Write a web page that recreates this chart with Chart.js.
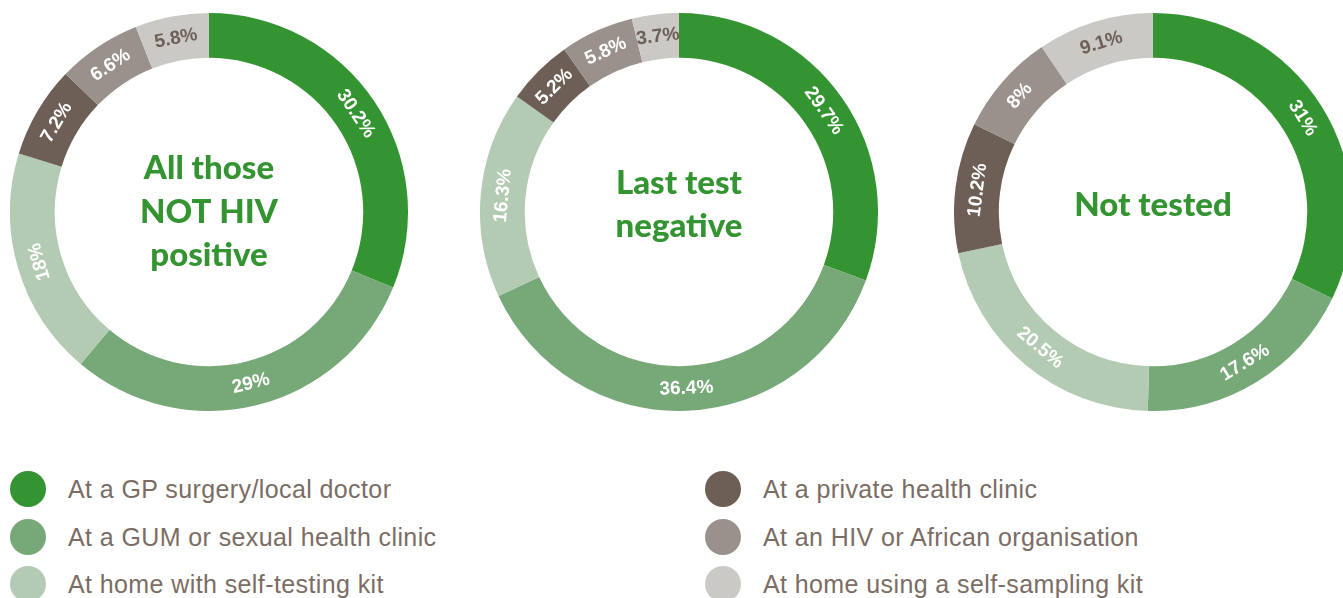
<!DOCTYPE html>
<html>
<head>
<meta charset="utf-8">
<script src="https://cdn.jsdelivr.net/npm/chart.js@4/dist/chart.umd.min.js"></script>
<style>
  html, body { margin: 0; padding: 0; background: #fff; overflow: hidden; width: 1343px; height: 598px; }
  .ring { position: absolute; top: 13px; width: 398px; height: 398px; }
  .ring canvas { width: 398px !important; height: 398px !important; }
  .legend-item { position: absolute; height: 36px; line-height: 36px; font-family: "Liberation Sans", Arial, sans-serif;
    font-size: 25px; letter-spacing: 0.4px; color: #7b6d64; white-space: nowrap; }
  .legend-item span.dot { position: absolute; left: 0; top: 0; width: 36px; height: 36px; border-radius: 50%; }
  .legend-item span.txt { position: absolute; left: 58px; top: 0; }
</style>
</head>
<body>
<div class="ring" style="left:10px"><canvas id="chartAll"></canvas></div>
<div class="ring" style="left:480px"><canvas id="chartNeg"></canvas></div>
<div class="ring" style="left:954px"><canvas id="chartNot"></canvas></div>
<div id="legend"></div>

<script>
// where people would be willing to test: three groups, six places

var categories = [
  "At a GP surgery/local doctor",
  "At a GUM or sexual health clinic",
  "At home with self-testing kit",
  "At a private health clinic",
  "At an HIV or African organisation",
  "At home using a self-sampling kit"
];
var allNotPositive = [30.2, 29, 18, 7.2, 6.6, 5.8];
var lastTestNegative = [29.7, 36.4, 16.3, 5.2, 5.8, 3.7];
var notTested = [31, 17.6, 20.5, 10.2, 8, 9.1];
var titleAll = ["All those", "NOT HIV", "positive"];
var titleNeg = ["Last test", "negative"];
var titleNot = ["Not tested"];

var COLORS = ["#339431", "#77a978", "#b2cbb2", "#6d5f55", "#9b918c", "#cbc9c6"];
var LABEL_COLORS = ["#fff", "#fff", "#fff", "#fff", "#fff", "#6d5f55"];
var TITLE_GREEN = "#339431";

// percent labels rotated along the ring
var ringLabels = {
  id: "ringLabels",
  afterDatasetsDraw: function (chart) {
    var ctx = chart.ctx;
    var meta = chart.getDatasetMeta(0);
    var data = chart.data.datasets[0].data;
    ctx.save();
    ctx.font = "bold 19px 'Liberation Sans', Arial, sans-serif";
    ctx.textAlign = "center";
    ctx.textBaseline = "middle";
    meta.data.forEach(function (arc, i) {
      var p = arc.getProps(["x", "y", "startAngle", "endAngle", "innerRadius", "outerRadius"], true);
      var mid = (p.startAngle + p.endAngle) / 2;
      var r = (p.innerRadius + p.outerRadius) / 2;
      var tx = p.x + Math.cos(mid) * r;
      var ty = p.y + Math.sin(mid) * r;
      var fromTop = (mid + Math.PI / 2) * 180 / Math.PI;
      var rot = fromTop;
      if (fromTop > 90 && fromTop < 240) rot = fromTop - 180;
      ctx.save();
      ctx.translate(tx, ty);
      ctx.rotate(rot * Math.PI / 180);
      ctx.fillStyle = LABEL_COLORS[i];
      ctx.fillText(data[i] + "%", 0, 0);
      ctx.restore();
    });
    ctx.restore();
  }
};

var centerTitle = {
  id: "centerTitle",
  afterDraw: function (chart) {
    var opts = chart.options.plugins.centerTitle;
    var lines = opts.lines;
    var arc = chart.getDatasetMeta(0).data[0];
    var ctx = chart.ctx;
    var lh = 43.5;
    var y0 = arc.y + opts.shift - (lines.length - 1) * lh / 2;
    ctx.save();
    ctx.font = "900 33px Lato, 'Open Sans', sans-serif";
    ctx.fillStyle = TITLE_GREEN;
    ctx.textAlign = "center";
    ctx.textBaseline = "middle";
    lines.forEach(function (l, i) { ctx.fillText(l, arc.x, y0 + i * lh); });
    ctx.restore();
  }
};

function ring(id, values, lines, shift) {
  return new Chart(document.getElementById(id), {
    type: "doughnut",
    data: {
      labels: categories,
      datasets: [{ data: values, backgroundColor: COLORS, borderWidth: 0 }]
    },
    options: {
      responsive: false,
      animation: false,
      events: [],
      cutout: "77.5%",
      layout: { padding: 0 },
      plugins: {
        legend: { display: false },
        tooltip: { enabled: false },
        centerTitle: { lines: lines, shift: shift }
      }
    },
    plugins: [ringLabels, centerTitle]
  });
}

["chartAll", "chartNeg", "chartNot"].forEach(function (id) {
  var c = document.getElementById(id);
  c.width = 398; c.height = 398;
});

ring("chartAll", allNotPositive, titleAll, 0);
ring("chartNeg", lastTestNegative, titleNeg, -7);
ring("chartNot", notTested, titleNot, -7);

// legend, two columns of three
var legend = document.getElementById("legend");
categories.forEach(function (name, i) {
  var col = Math.floor(i / 3), row = i % 3;
  var item = document.createElement("div");
  item.className = "legend-item";
  item.style.left = (col === 0 ? 10 : 705) + "px";
  item.style.top = (471 + row * 47.5) + "px";
  item.innerHTML = '<span class="dot" style="background:' + COLORS[i] + '"></span><span class="txt"></span>';
  item.querySelector(".txt").textContent = name;
  legend.appendChild(item);
});
</script>
</body>
</html>
